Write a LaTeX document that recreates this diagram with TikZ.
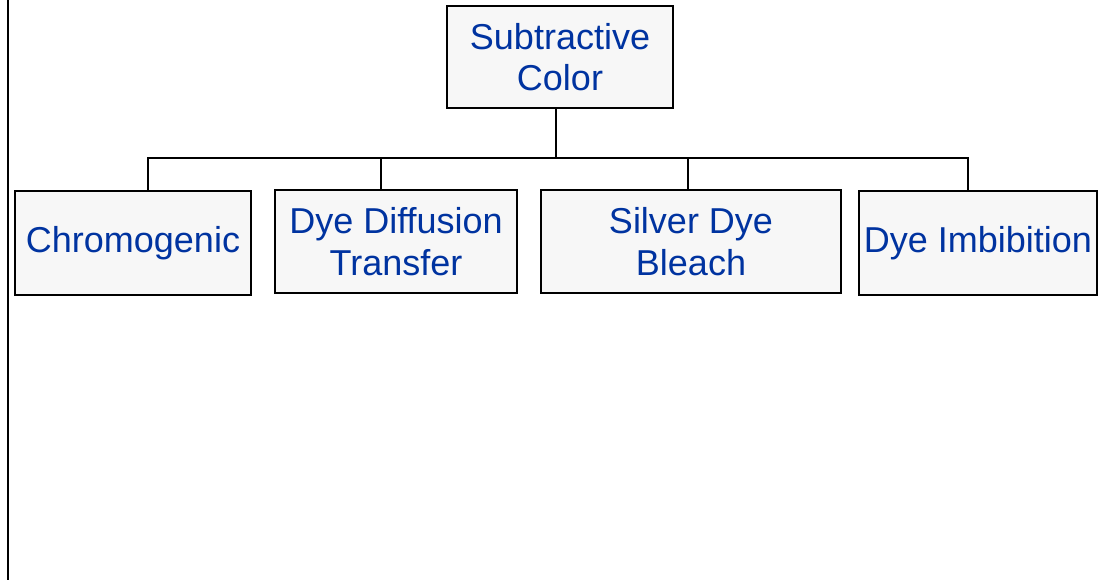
\documentclass[tikz,border=0pt]{standalone}
\usepackage{fontspec}
\setmainfont{Liberation Sans}
\usepackage{tikz}
\definecolor{boxfill}{HTML}{F7F7F7}
\definecolor{txtblue}{HTML}{0033A0}
\newcommand{\kind}[5]{\node[box,minimum width=#3*0.5pt,minimum height=#4*0.5pt] (#1) at (#2) {#5};}

\begin{document}
\begin{tikzpicture}[x=0.5pt,y=-0.5pt,
  box/.style={draw,line width=1pt,fill=boxfill,text=txtblue,inner sep=0pt,align=center,font=\fontsize{18}{20.7}\selectfont},
  link/.style={line width=1.2pt}]
\useasboundingbox (0,0) rectangle (1098,580);
\draw[line width=1pt] (8,0) -- (8,580);
\kind{sub}{560,57}{226}{102}{Subtractive\\Color}
\kind{chrom}{133,243}{236}{104}{Chromogenic}
\kind{ddt}{396,241.5}{242}{103}{Dye Diffusion\\Transfer}
\kind{sdb}{691,241.5}{300}{103}{Silver Dye\\Bleach}
\kind{imb}{978,243}{238}{104}{Dye Imbibition}
\coordinate (top) at (556,158);
\coordinate (b1) at (148,158); \coordinate (b2) at (381,158);
\coordinate (b3) at (688,158); \coordinate (b4) at (968,158);
\draw[link] (sub.south -| top) -- (top);
\draw[link] (b1 |- chrom.north) -- (b1) -- (b4) -- (b4 |- imb.north);
\draw[link] (b2) -- (b2 |- ddt.north) (b3) -- (b3 |- sdb.north);
\end{tikzpicture}
\end{document}
